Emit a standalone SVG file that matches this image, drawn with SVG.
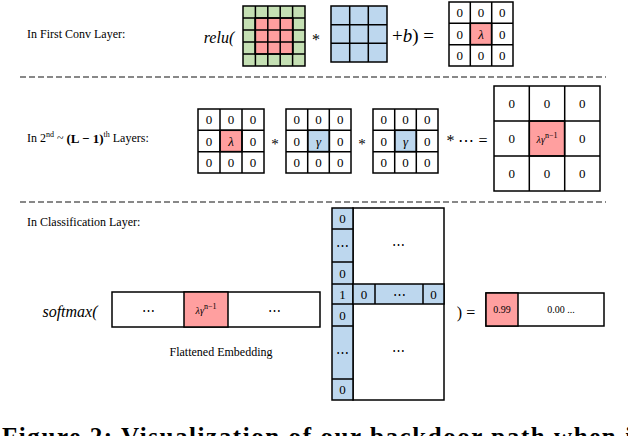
<svg xmlns="http://www.w3.org/2000/svg" width="628" height="436" viewBox="0 0 628 436">
<style>
text{font-family:"Liberation Serif","DejaVu Serif",serif;fill:#000;text-anchor:middle;dominant-baseline:central}
.lab{font-size:12px;text-anchor:start}
.m{font-style:italic;font-size:16px}
.c{stroke:#000;stroke-width:1.5}
.g{fill:#c5e0b4}.r{fill:#ff9f9f}.b{fill:#bdd7ee}.w{fill:#fff}
.n{font-size:13px}.s{font-size:10px}
.dash{stroke:#888;stroke-width:2;stroke-dasharray:6 3}
</style>
<g id="row1">
<text class="lab" x="27" y="34">In First Conv Layer:</text>
<text class="m" x="219" y="37">relu(</text>
<g id="input">
<rect class="c g" x="243" y="6" width="62" height="60"/>
<rect class="c r" x="255" y="18" width="38" height="36"/>
<path class="c" fill="none" d="M255.4 6V66M267.8 6V66M280.2 6V66M292.6 6V66M243 18H305M243 30H305M243 42H305M243 54H305"/>
</g>
<text x="316" y="39" font-size="16">*</text>
<g id="kernel">
<rect class="c b" x="331" y="6" width="56" height="56"/>
<path class="c" fill="none" d="M349.7 6V62M368.3 6V62M331 24.7H387M331 43.3H387"/>
</g>
<text x="392" y="35" font-size="19" style="text-anchor:start">+<tspan font-style="italic">b</tspan>) =</text>
<g id="out1">
<rect class="c w" x="449" y="2" width="64" height="64"/>
<rect class="c r" x="470.3" y="23.3" width="21.3" height="21.3"/>
<path class="c" fill="none" d="M470.3 2V66M491.7 2V66M449 23.3H513M449 44.7H513"/>
<text class="n" x="459.7" y="12.7">0</text><text class="n" x="481" y="12.7">0</text><text class="n" x="502.3" y="12.7">0</text>
<text class="n" x="459.7" y="34">0</text><text class="n" x="481" y="34" font-style="italic">λ</text><text class="n" x="502.3" y="34">0</text>
<text class="n" x="459.7" y="55.3">0</text><text class="n" x="481" y="55.3">0</text><text class="n" x="502.3" y="55.3">0</text>
</g>
</g>
<line class="dash" x1="20" y1="77" x2="606" y2="77"/>
<g id="row2">
<text class="lab" x="27" y="138">In 2<tspan font-size="8" dy="-4">nd</tspan><tspan dy="4"> ~ </tspan><tspan font-size="13" font-weight="bold">(L − 1)</tspan><tspan font-size="8" dy="-4">th</tspan><tspan dy="4"> Layers:</tspan></text>
<g id="m1">
<rect class="c w" x="198" y="109" width="66" height="64"/>
<rect class="c r" x="220" y="130.3" width="22" height="21.3"/>
<path class="c" fill="none" d="M220 109V173M242 109V173M198 130.3H264M198 151.7H264"/>
<text class="n" x="209" y="119.7">0</text><text class="n" x="231" y="119.7">0</text><text class="n" x="253" y="119.7">0</text>
<text class="n" x="209" y="141">0</text><text class="n" x="231" y="141" font-style="italic">λ</text><text class="n" x="253" y="141">0</text>
<text class="n" x="209" y="162.3">0</text><text class="n" x="231" y="162.3">0</text><text class="n" x="253" y="162.3">0</text>
</g>
<text x="275" y="144" font-size="15">*</text>
<g id="m2">
<rect class="c w" x="286" y="109" width="65" height="64"/>
<rect class="c b" x="307.7" y="130.3" width="21.7" height="21.3"/>
<path class="c" fill="none" d="M307.7 109V173M329.3 109V173M286 130.3H351M286 151.7H351"/>
<text class="n" x="296.8" y="119.7">0</text><text class="n" x="318.5" y="119.7">0</text><text class="n" x="340.2" y="119.7">0</text>
<text class="n" x="296.8" y="141">0</text><text class="n" x="318.5" y="141" font-style="italic">γ</text><text class="n" x="340.2" y="141">0</text>
<text class="n" x="296.8" y="162.3">0</text><text class="n" x="318.5" y="162.3">0</text><text class="n" x="340.2" y="162.3">0</text>
</g>
<text x="362" y="144" font-size="15">*</text>
<g id="m3">
<rect class="c w" x="373" y="109" width="65" height="64"/>
<rect class="c b" x="394.7" y="130.3" width="21.7" height="21.3"/>
<path class="c" fill="none" d="M394.7 109V173M416.3 109V173M373 130.3H438M373 151.7H438"/>
<text class="n" x="383.8" y="119.7">0</text><text class="n" x="405.5" y="119.7">0</text><text class="n" x="427.2" y="119.7">0</text>
<text class="n" x="383.8" y="141">0</text><text class="n" x="405.5" y="141" font-style="italic">γ</text><text class="n" x="427.2" y="141">0</text>
<text class="n" x="383.8" y="162.3">0</text><text class="n" x="405.5" y="162.3">0</text><text class="n" x="427.2" y="162.3">0</text>
</g>
<text x="467" y="140" font-size="16">* ⋯ =</text>
<g id="m4">
<rect class="c w" x="494" y="86" width="106" height="105"/>
<rect class="c r" x="529.3" y="121" width="35.3" height="35"/>
<path class="c" fill="none" d="M529.3 86V191M564.7 86V191M494 121H600M494 156H600"/>
<text class="n" x="511.7" y="103.5">0</text><text class="n" x="547" y="103.5">0</text><text class="n" x="582.3" y="103.5">0</text>
<text class="n" x="511.7" y="138.5">0</text><text x="547" y="138.5" font-size="10"><tspan font-style="italic">λγ</tspan><tspan font-size="8" dy="-4">n−1</tspan></text><text class="n" x="582.3" y="138.5">0</text>
<text class="n" x="511.7" y="173.5">0</text><text class="n" x="547" y="173.5">0</text><text class="n" x="582.3" y="173.5">0</text>
</g>
</g>
<line class="dash" x1="20" y1="202" x2="606" y2="202"/>
<g id="row3">
<text class="lab" x="27" y="222">In Classification Layer:</text>
<text class="m" x="70" y="311">softmax(</text>
<g id="embedding">
<rect class="c w" x="112" y="292" width="208" height="35"/>
<rect class="c r" x="184" y="292" width="44" height="35"/>
<text class="n" x="148" y="310">⋯</text>
<text x="206" y="310" font-size="10"><tspan font-style="italic">λγ</tspan><tspan font-size="8" dy="-4">n−1</tspan></text>
<text class="n" x="274" y="310">⋯</text>
<text x="221" y="352" font-size="12">Flattened Embedding</text>
</g>
<g id="weights">
<rect class="c w" x="353" y="208" width="91" height="192"/>
<rect class="c b" x="332" y="208" width="21" height="192"/>
<rect class="c b" x="353" y="284" width="91" height="20"/>
<path class="c" fill="none" d="M332 229H353M332 262H353M332 284H353M332 304H353M332 326H353M332 379H353M375 284V304M423 284V304"/>
<text class="n" x="342.5" y="218.5">0</text>
<text class="n" x="342.5" y="245.5">⋯</text>
<text class="n" x="342.5" y="273">0</text>
<text class="n" x="342.5" y="294">1</text>
<text class="n" x="342.5" y="315">0</text>
<text class="n" x="342.5" y="352.5">⋯</text>
<text class="n" x="342.5" y="389.5">0</text>
<text class="n" x="364" y="294">0</text>
<text class="n" x="399" y="294">⋯</text>
<text class="n" x="433.5" y="294">0</text>
<text class="n" x="398" y="244">⋯</text>
<text class="n" x="398" y="350">⋯</text>
</g>
<text x="466" y="312" font-size="16">)  =</text>
<g id="output">
<rect class="c w" x="486" y="293" width="118" height="33"/>
<rect class="c r" x="486" y="293" width="32" height="33"/>
<text class="s" x="502" y="309.5">0.99</text>
<text class="s" x="561" y="309.5">0.00 ...</text>
</g>
</g>
<text x="2" y="445" font-size="25" font-weight="bold" textLength="640" style="text-anchor:start;dominant-baseline:auto">Figure 2: Visualization of our backdoor path when it</text>
</svg>
